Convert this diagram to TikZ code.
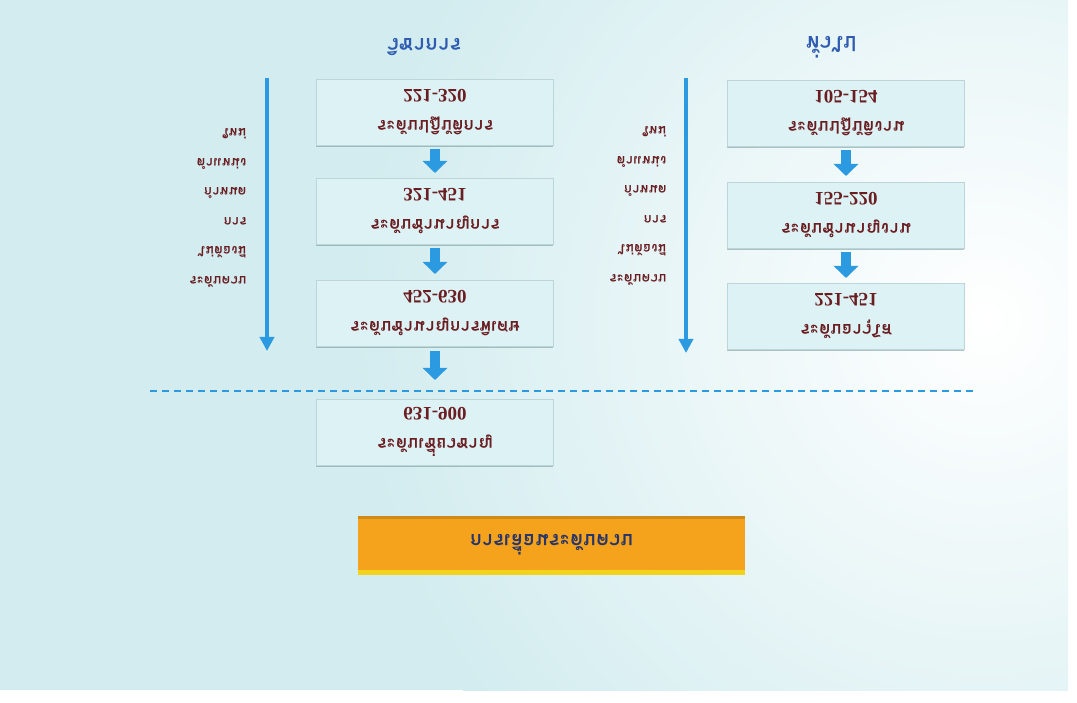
\documentclass[tikz,border=0pt]{standalone}
\usepackage{fontspec}
\newfontfamily\thaifont[Script=Thai]{Loma}
\newfontfamily\numfont{Liberation Serif}
\usetikzlibrary{arrows.meta,positioning,shadows}
\definecolor{bgc}{HTML}{D2ECEF}
\definecolor{boxfill}{HTML}{DDF2F4}
\definecolor{boxline}{HTML}{BCD5D8}
\definecolor{arrowc}{HTML}{2B9AE0}
\definecolor{textc}{HTML}{6A1E22}
\definecolor{headc}{HTML}{2F5CB0}
\definecolor{titlec}{HTML}{F5A31C}
\definecolor{titleedge}{HTML}{F2D21A}
\definecolor{titletext}{HTML}{27356A}
\tikzset{
  level/.style={draw=boxline, fill=boxfill, minimum width=237, minimum height=66,
    align=center, text=textc, yscale=-1, inner sep=2pt,
    drop shadow={shadow xshift=-1pt, shadow yshift=-2pt, opacity=.45, fill=gray!70!teal},
    font=\thaifont\bfseries\fontsize{17.5}{31}\selectfont},
  stepdown/.style={draw=arrowc, line width=10pt, -{Triangle[length=12pt,width=24pt]}},
  timeline/.style={draw=arrowc, line width=3.5pt, -{Triangle[length=14pt,width=14pt]}},
  sidenote/.style={align=right, text=textc, yscale=-1, inner sep=0pt,
    font=\thaifont\bfseries\fontsize{13.5}{29.5}\selectfont},
  header/.style={text=headc, yscale=-1, font=\thaifont\bfseries\fontsize{21}{24}\selectfont}
}
\newcommand{\yr}[1]{{\numfont\bfseries\fontsize{19}{31}\selectfont #1}}
\begin{document}
\begin{tikzpicture}[x=1pt,y=-1pt]
% background
\fill[white] (0,0) rectangle (1077,703);
\fill[bgc] (0,0) rectangle (1068,690);
\begin{scope}
\clip (0,0) rectangle (1068,690);
\shade[inner color=white, outer color=bgc] (985,320) circle (640);
\end{scope}
\useasboundingbox (0,0) rectangle (1077,703);

% headers
\node[header] (hr) at (831,47) {ทั่วไป};
\node[header] (hl) at (424,47) {วิชาการ};

% general levels
\node[level] (r1) at (846,113) {ระดับปฏิบัติงาน\\\yr{105-154}};
\node[level] (r2) at (846,215) {ระดับชำนาญงาน\\\yr{155-220}};
\node[level] (r3) at (846,316) {ระดับอาวุโส\\\yr{221-451}};
\draw[stepdown] (r1) ++(0,37) -- ++(0,26);
\draw[stepdown] (r2) ++(0,37) -- ++(0,26);

% academic levels
\node[level] (l1) at (435,112) {ระดับปฏิบัติการ\\\yr{221-320}};
\node[level] (l2) at (435,211) {ระดับชำนาญการ\\\yr{321-451}};
\node[level] (l3) at (435,313) {ระดับชำนาญการพิเศษ\\\yr{452-630}};
\node[level] (l4) at (435,432) {ระดับเชี่ยวชาญ\\\yr{631-900}};
\draw[stepdown] (l1) ++(0,37) -- ++(0,24);
\draw[stepdown] (l2) ++(0,37) -- ++(0,26);
\draw[stepdown] (l3) ++(0,38) -- ++(0,29);

% time lines
\coordinate (rt0) at (686,78);
\coordinate (rt1) at (686,353);
\coordinate (lt0) at (267,78);
\coordinate (lt1) at (267,351);
\draw[timeline] (rt0) -- (rt1);
\draw[timeline] (lt0) -- (lt1);

\node[sidenote] (nr) at (638,206) {ระดับควบ\\ไม่ต้องมี\\การ\\กำหนด\\ตำแหน่ง\\ใหม่};
\node[sidenote] (nl) at (218,208) {ระดับควบ\\ไม่ต้องมี\\การ\\กำหนด\\ตำแหน่ง\\ใหม่};

% dashed divider
\coordinate (d0) at (150,391);
\coordinate (d1) at (975,391);
\draw[arrowc, line width=1.6pt, dash pattern=on 7pt off 5pt] (d0) -- (d1);

% title
\fill[titleedge] (358,517) rectangle (745,575);
\fill[titlec!85!black] (358,516) rectangle (745,519);
\node[fill=titlec, minimum width=387, minimum height=51, inner sep=0pt,
  text=titletext, yscale=-1, font=\thaifont\bfseries\fontsize{20}{22}\selectfont]
  (title) at (551.5,544.5) {การเลื่อนระดับควบ};
\end{tikzpicture}
\end{document}
